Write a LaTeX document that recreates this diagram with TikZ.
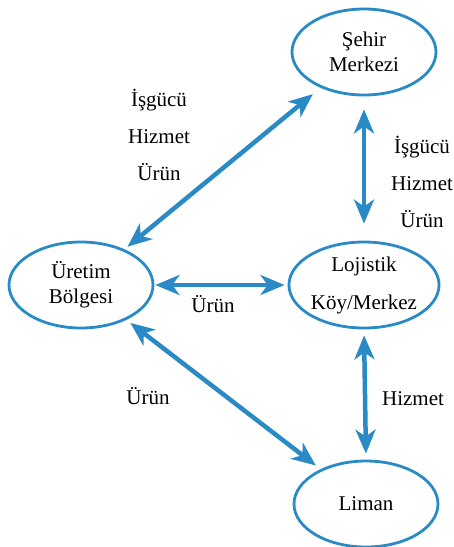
\documentclass[tikz,border=0pt]{standalone}
\usepackage{fontspec}
\setmainfont{Liberation Serif}
\usetikzlibrary{shapes.geometric,arrows.meta}
\definecolor{lblue}{HTML}{2A8AC6}
\tikzset{
  place/.style={ellipse, draw=lblue, line width=2.8pt, minimum width=144pt, minimum height=86pt, inner sep=0pt, align=center, font=\fontsize{21}{25}\selectfont},
  flow/.style={draw=lblue, line width=4.5pt, {Stealth[length=24pt,width=20pt,inset=7pt]}-{Stealth[length=24pt,width=20pt,inset=7pt]}},
  lbl/.style={align=center, font=\fontsize{21}{25}\selectfont, inner sep=0pt}
}
\begin{document}
\begin{tikzpicture}[x=1pt,y=-1pt]
\useasboundingbox[fill=white] (0,0) rectangle (454,547);
\node[place] (seh) at (364,52) {Şehir\\Merkezi};
\node[place] (ure) at (81,285) {Üretim\\Bölgesi};
\node[place] (loj) at (364,285) {Lojistik\\[13pt]Köy/Merkez};
\node[place] (lim) at (366,504) {Liman};
\draw[flow, shorten <=4pt, shorten >=10pt] (ure) -- (seh);
\draw[flow, shorten <=13pt, shorten >=17pt] (seh.south) -- (loj.north);
\draw[flow, shorten <=1pt, shorten >=3pt] (ure) -- (loj);
\draw[flow, shorten <=6pt, shorten >=6pt] (loj.south) -- (lim.north);
\draw[flow, shorten <=5pt, shorten >=6pt] (ure) -- (lim);
\node[lbl] (l1) at (159,135) {İşgücü\\[12pt]Hizmet\\[12pt]Ürün};
\node[lbl] (l2) at (422,182) {İşgücü\\[12pt]Hizmet\\[12pt]Ürün};
\node[lbl] (l3) at (213,304) {Ürün};
\node[lbl] (l4) at (148,396) {Ürün};
\node[lbl] (l5) at (413,399) {Hizmet};
\end{tikzpicture}
\end{document}
